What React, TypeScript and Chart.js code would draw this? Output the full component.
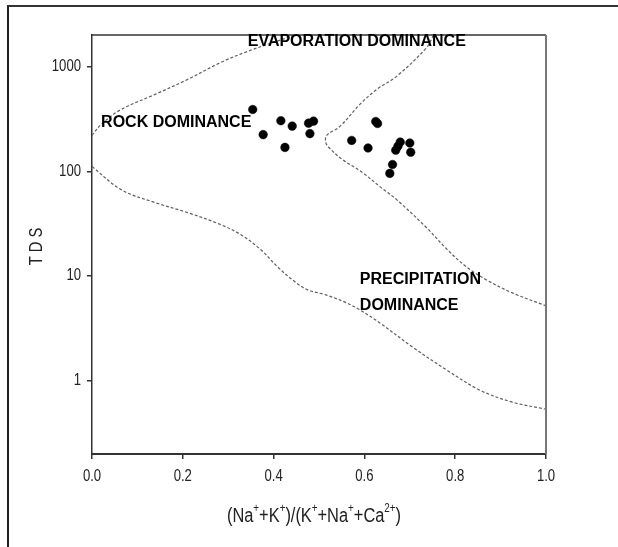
import React, { useEffect, useRef } from "react";
import { Chart, registerables } from "chart.js";

Chart.register(...registerables);

// Sample points: x = (Na+K)/(K+Na+Ca), y = TDS
const sampleX = [0.354, 0.377, 0.416, 0.441, 0.425, 0.477, 0.488, 0.480, 0.572, 0.625, 0.629, 0.608, 0.679, 0.674, 0.669, 0.700, 0.702, 0.662, 0.656];
const sampleY = [389, 224, 304, 270, 169, 288, 301, 229, 197, 299, 286, 167, 190, 174, 159, 186, 152, 116, 95.5];

// Gibbs boundary: upper-left (rock / evaporation)
const upperLeftX = [0.0, 0.02, 0.064, 0.139, 0.211, 0.284, 0.343, 0.387, 0.447];
const upperLeftY = [220, 280, 389, 542, 754, 1097, 1397, 1630, 1987];

// Gibbs boundary: lower (rock / precipitation)
const lowerX = [0.0, 0.064, 0.139, 0.211, 0.284, 0.328, 0.372, 0.409, 0.447, 0.475, 0.515, 0.561, 0.590, 0.634, 0.706, 0.781, 0.854, 0.926, 1.0];
const lowerY = [111, 66.8, 50.2, 40.3, 30.9, 24.8, 17.8, 12.2, 8.81, 7.38, 6.61, 5.54, 4.75, 3.57, 2.10, 1.27, 0.815, 0.625, 0.536];

// Gibbs boundary: right (evaporation / precipitation)
const rightX = [0.752, 0.737, 0.671, 0.627, 0.590, 0.546, 0.517, 0.515, 0.524, 0.552, 0.596, 0.634, 0.671, 0.737, 0.783, 0.825, 0.869, 0.926, 1.0];
const rightY = [1988, 1517, 806, 604, 435, 268, 220, 188, 165, 129, 97.2, 71.4, 53.6, 28.9, 17.8, 12.2, 9.18, 6.90, 5.2];

const yTickValues = [1, 10, 100, 1000];
const xTickValues = [0, 0.2, 0.4, 0.6, 0.8, 1.0];

const regionLabels = ["ROCK DOMINANCE", "EVAPORATION DOMINANCE", "PRECIPITATION", "DOMINANCE"];
const regionLabelX = [0.02, 0.343, 0.59, 0.59];
const regionLabelY = [290, 1716, 9.2, 5.19];

// x title pieces: [text, isSuperscript]
const xTitleParts: [string, boolean][] = [
  ["(Na", false], ["+", true], ["+K", false], ["+", true], [")/(K", false], ["+", true],
  ["+Na", false], ["+", true], ["+Ca", false], ["2+", true], [")", false],
];
const yTitle = "T D S";

const FONT = "'Liberation Sans', Arial, sans-serif";
const SQUEEZE = 0.82;

const zip = (xs: number[], ys: number[]) => xs.map((x, i) => ({ x, y: ys[i] }));

export default function App() {
  const ref = useRef<HTMLCanvasElement | null>(null);

  useEffect(() => {
    if (!ref.current) return;
    const curve = (data: { x: number; y: number }[]) => ({
      type: "scatter" as const,
      data,
      showLine: true,
      borderColor: "#5f5f5f",
      borderWidth: 1.2,
      borderDash: [3, 2],
      pointRadius: 0,
      tension: 0.35,
      fill: false,
    });

    const framePlugin = {
      id: "frameAndLabels",
      afterDatasetsDraw(chart: any) {
        const { ctx, chartArea, scales } = chart;
        ctx.save();
        ctx.strokeStyle = "#333";
        ctx.lineWidth = 1.5;
        ctx.beginPath();
        ctx.moveTo(chartArea.left, chartArea.top);
        ctx.lineTo(chartArea.right, chartArea.top);
        ctx.stroke();
        ctx.strokeStyle = "#777";
        ctx.lineWidth = 2;
        ctx.beginPath();
        ctx.moveTo(chartArea.right, chartArea.top);
        ctx.lineTo(chartArea.right, chartArea.bottom);
        ctx.stroke();
        ctx.fillStyle = "#000";
        ctx.font = `bold 16px ${FONT}`;
        ctx.textAlign = "left";
        ctx.textBaseline = "middle";
        regionLabels.forEach((t, i) => {
          const px = scales.x.getPixelForValue(regionLabelX[i]);
          const py = scales.y.getPixelForValue(regionLabelY[i]);
          ctx.fillText(t, px, py);
        });
        ctx.restore();
      },
      afterDraw(chart: any) {
        const { ctx, chartArea, scales } = chart;
        const sx = scales.x;
        const sy = scales.y;
        ctx.save();
        ctx.fillStyle = "#222";
        ctx.font = `16px ${FONT}`;
        ctx.textBaseline = "middle";
        // y tick labels
        ctx.textAlign = "right";
        sy.ticks.forEach((t: any) => {
          const py = sy.getPixelForValue(t.value);
          ctx.save();
          ctx.translate(chartArea.left - 11, py);
          ctx.scale(SQUEEZE, 1);
          ctx.fillText(String(t.value), 0, 0);
          ctx.restore();
        });
        // x tick labels
        ctx.textAlign = "center";
        sx.ticks.forEach((t: any) => {
          const px = sx.getPixelForValue(t.value);
          ctx.save();
          ctx.translate(px, chartArea.bottom + 23);
          ctx.scale(SQUEEZE, 1);
          ctx.fillText(Number(t.value).toFixed(1), 0, 0);
          ctx.restore();
        });
        // y title
        ctx.save();
        ctx.font = `18px ${FONT}`;
        ctx.translate(37, (chartArea.top + chartArea.bottom) / 2 + 2);
        ctx.rotate(-Math.PI / 2);
        ctx.scale(SQUEEZE, 1);
        ctx.textAlign = "center";
        ctx.fillText(yTitle, 0, 0);
        ctx.restore();
        // x title with superscripts
        const baseFont = `20px ${FONT}`;
        const supFont = `12px ${FONT}`;
        let total = 0;
        const widths = xTitleParts.map(([s, sup]) => {
          ctx.font = sup ? supFont : baseFont;
          const w = ctx.measureText(s).width * SQUEEZE;
          total += w;
          return w;
        });
        let cx = (chartArea.left + chartArea.right) / 2 - 5 - total / 2;
        const cy = 516;
        ctx.textAlign = "left";
        xTitleParts.forEach(([s, sup], i) => {
          ctx.save();
          ctx.font = sup ? supFont : baseFont;
          ctx.translate(cx, sup ? cy - 7 : cy);
          ctx.scale(SQUEEZE, 1);
          ctx.fillText(s, 0, 0);
          ctx.restore();
          cx += widths[i];
        });
        ctx.restore();
      },
    };

    const chart = new Chart(ref.current, {
      type: "scatter",
      data: {
        datasets: [
          curve(zip(upperLeftX, upperLeftY)),
          curve(zip(lowerX, lowerY)),
          curve(zip(rightX, rightY)),
          {
            type: "scatter",
            data: zip(sampleX, sampleY),
            backgroundColor: "#000",
            borderColor: "#000",
            pointRadius: 4.3,
            pointBorderWidth: 0.5,
          },
        ],
      },
      options: {
        animation: false,
        responsive: false,
        layout: { padding: { left: 0, top: 35, right: 72, bottom: 0 } },
        plugins: { legend: { display: false }, tooltip: { enabled: false } },
        scales: {
          x: {
            type: "linear",
            min: 0,
            max: 1,
            afterBuildTicks: (s: any) => {
              s.ticks = xTickValues.map((v) => ({ value: v }));
            },
            afterFit: (s: any) => {
              s.height = 93;
            },
            ticks: { display: false },
            grid: { display: true, drawOnChartArea: false, drawTicks: true, tickLength: 5, color: "#333", lineWidth: 1.5 },
            border: { display: true, color: "#333", width: 2 },
          },
          y: {
            type: "logarithmic",
            min: 0.2,
            max: 2000,
            afterBuildTicks: (s: any) => {
              s.ticks = yTickValues.map((v) => ({ value: v }));
            },
            afterFit: (s: any) => {
              s.width = 92;
            },
            ticks: { display: false },
            grid: { display: true, drawOnChartArea: false, drawTicks: true, tickLength: 5, color: "#333", lineWidth: 1.5 },
            border: { display: true, color: "#333", width: 1.5 },
          },
        },
      },
      plugins: [framePlugin],
    } as any);
    return () => chart.destroy();
  }, []);

  return (
    <div style={{ position: "fixed", left: 0, top: 0, width: 618, height: 547, background: "#fff" }}>
      <div
        style={{
          position: "absolute",
          left: 7,
          top: 5,
          width: 611,
          height: 542,
          borderTop: "2px solid #333",
          borderLeft: "2px solid #222",
          boxSizing: "border-box",
          pointerEvents: "none",
        }}
      />
      <canvas ref={ref} width={618} height={547} style={{ position: "absolute", left: 0, top: 0, display: "block" }} />
    </div>
  );
}
